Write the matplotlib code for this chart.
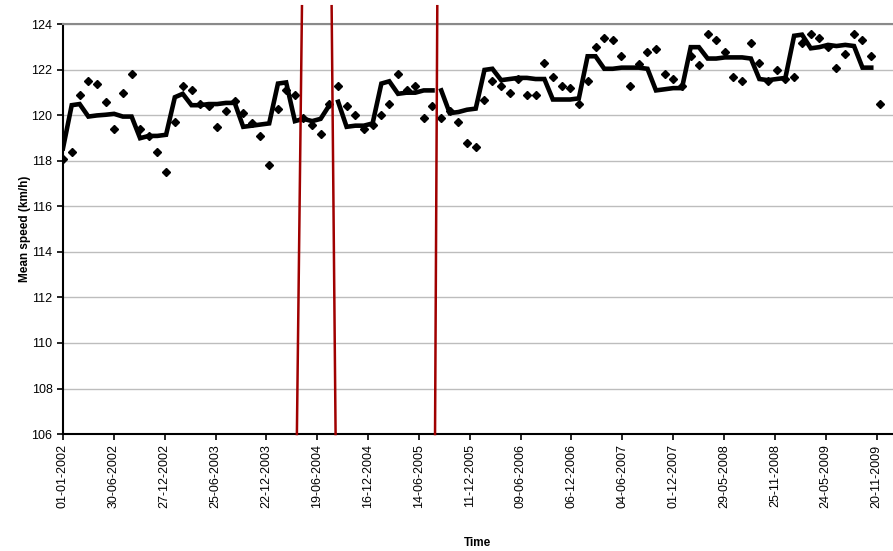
import numpy as np
import pandas as pd
import matplotlib
matplotlib.use("Agg")
import matplotlib.pyplot as plt
import matplotlib.dates as mdates

plt.rcParams['font.family'] = ['Liberation Sans', 'DejaVu Sans']

# ======================================
# DATA (monthly, Jan 2002 - Dec 2009)
# ======================================

months = pd.date_range("2002-01-01", periods=96, freq="MS")

observed = [
    118.1, 118.4, 120.9, 121.5, 121.4, 120.6, 119.4, 121.0, 121.8, 119.4, 119.1, 118.4,
    117.5, 119.7, 121.3, 121.1, 120.5, 120.4, 119.5, 120.2, 120.65, 120.1, 119.65, 119.1,
    117.8, 120.3, 121.1, 120.9, 119.9, 119.6, 119.2, 120.5, 121.3, 120.4, 120.0, 119.4,
    119.6, 120.0, 120.5, 121.8, 121.1, 121.3, 119.9, 120.4, 119.9, 120.2, 119.7, 118.8,
    118.6, 120.7, 121.5, 121.3, 121.0, 121.6, 120.9, 120.9, 122.3, 121.7, 121.3, 121.2,
    120.5, 121.5, 123.0, 123.4, 123.3, 122.6, 121.3, 122.25, 122.8, 122.9, 121.8, 121.6,
    121.3, 122.6, 122.2, 123.6, 123.3, 122.8, 121.7, 121.5, 123.2, 122.3, 121.5, 122.0,
    121.6, 121.7, 123.2, 123.6, 123.4, 123.0, 122.1, 122.7, 123.6, 123.3, 122.6, 120.5,
]

# model line, NaN = break at an intervention
model = [
    118.55, 120.45, 120.5, 119.95, 120.0, 120.03, 120.07, 119.95, 119.95, 119.0, 119.1, 119.1,
    119.15, 120.8, 120.95, 120.45, 120.45, 120.5, 120.5, 120.55, 120.55, 119.5, 119.55, 119.6,
    119.65, 121.4, 121.45, 119.75, 119.85, 119.75, 119.85, 120.45, 120.6, 119.5, 119.55, 119.55,
    119.65, 121.4, 121.5, 120.95, 121.0, 121.0, 121.1, 121.1, 121.1, 120.1, 120.15, 120.25,
    120.3, 122.0, 122.05, 121.55, 121.6, 121.65, 121.65, 121.6, 121.6, 120.7, 120.7, 120.7,
    120.75, 122.6, 122.6, 122.05, 122.05, 122.1, 122.1, 122.1, 122.05, 121.1, 121.15, 121.2,
    121.2, 123.0, 123.0, 122.5, 122.5, 122.55, 122.55, 122.55, 122.5, 121.6, 121.55, 121.6,
    121.65, 123.5, 123.55, 122.95, 123.0, 123.1, 123.05, 123.1, 123.05, 122.1, 122.1, np.nan,
]
breaks_after = [31, 43]

# intervention lines (top date, bottom date)
interventions = [
    ("2004-04-26", "2004-04-08"),
    ("2004-08-09", "2004-08-23"),
    ("2005-08-18", "2005-08-10"),
]

# ======================================
# PLOT
# ======================================

model_x = list(months)
model_y = list(model)
for b in sorted(breaks_after, reverse=True):
    model_x.insert(b + 1, months[b] + pd.Timedelta(days=15))
    model_y.insert(b + 1, np.nan)

fig = plt.figure(figsize=(8.93, 5.51), dpi=100)
ax = fig.add_axes([0.0705, 0.2123, 0.9295, 0.7434])

ax.plot(model_x, model_y, color="black", lw=3.3, solid_joinstyle="miter", zorder=3)
ax.plot(months, observed, "D", color="black", markersize=4.2, zorder=4)

for top, bottom in interventions:
    ax.plot([pd.Timestamp(top), pd.Timestamp(bottom)], [124.8, 106],
            color="#a00000", lw=1.8, clip_on=False, zorder=5)

start = pd.Timestamp("2002-01-01")
ax.set_xlim(start, start + pd.Timedelta(days=2938))
ax.set_ylim(106, 124)
ax.set_yticks(np.arange(106, 125, 2))
ax.set_xticks([start + pd.Timedelta(days=180 * k) for k in range(17)])
ax.xaxis.set_major_formatter(mdates.DateFormatter("%d-%m-%Y"))
plt.setp(ax.get_xticklabels(), rotation=90)

ax.tick_params(labelsize=9, direction="out", length=4, width=1.2)
ax.grid(axis="y", color="#bdbdbd", lw=1)
ax.set_axisbelow(True)

for s in ["left", "bottom"]:
    ax.spines[s].set_linewidth(1.5)
ax.spines["top"].set_color("#8a8a8a")
ax.spines["top"].set_linewidth(1.5)
ax.spines["right"].set_visible(False)

ax.set_ylabel("Mean speed (km/h)", fontsize=8.5, fontweight="bold")
ax.yaxis.set_label_coords(-0.038, 0.5)
fig.text(478 / 893, 1 - 543 / 551, "Time", fontsize=8.5, fontweight="bold",
         ha="center", va="center")

fig.savefig("out.png", dpi=100)
